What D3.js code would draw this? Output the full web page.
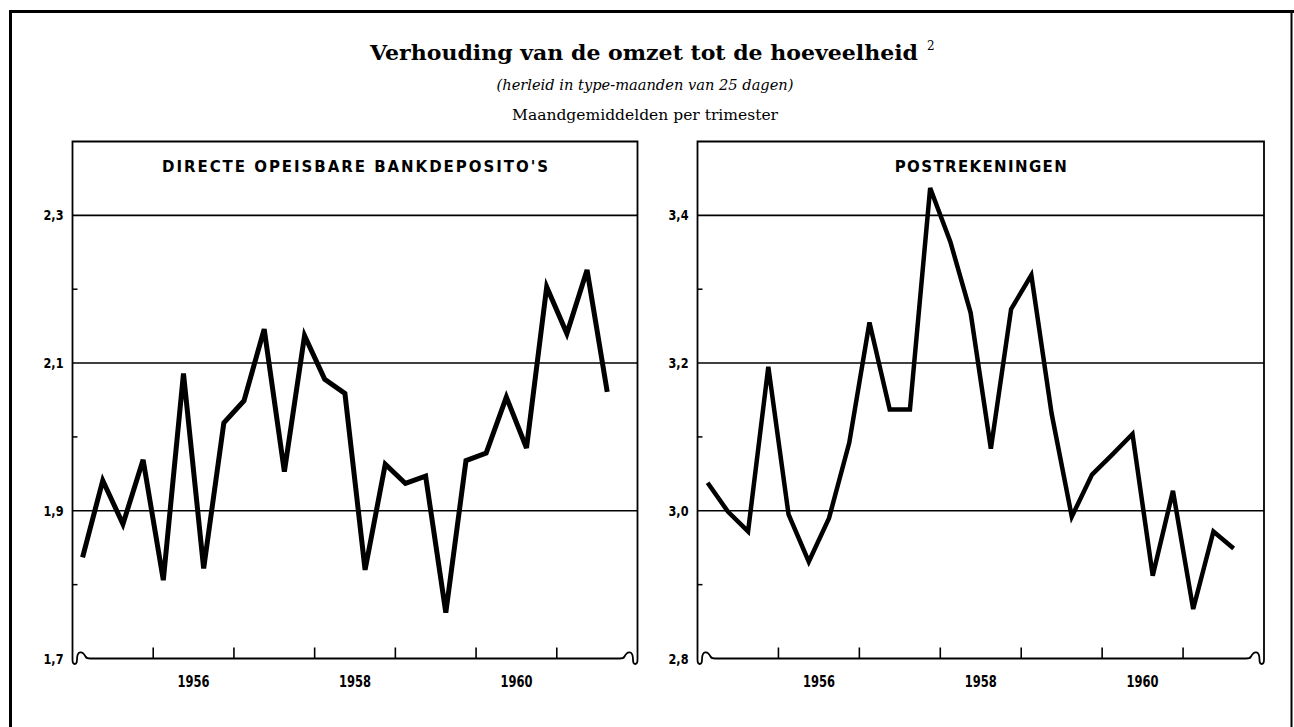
<!DOCTYPE html>
<html>
<head>
<meta charset="utf-8">
<script src="https://cdn.jsdelivr.net/npm/d3@7"></script>
<style>
  html, body { margin: 0; padding: 0; background: #fff; }
  svg { display: block; }
</style>
</head>
<body>
<svg id="chart" width="1294" height="727"></svg>
<script>
// ---------- DATA ----------
const quarters = [
  "1955 I","1955 II","1955 III","1955 IV",
  "1956 I","1956 II","1956 III","1956 IV",
  "1957 I","1957 II","1957 III","1957 IV",
  "1958 I","1958 II","1958 III","1958 IV",
  "1959 I","1959 II","1959 III","1959 IV",
  "1960 I","1960 II","1960 III","1960 IV",
  "1961 I","1961 II","1961 III"
];
const bankDeposits = [
  1.837, 1.941, 1.882, 1.969, 1.806, 2.086, 1.822, 2.019, 2.049,
  2.146, 1.953, 2.137, 2.078, 2.059, 1.820, 1.963, 1.937, 1.947,
  1.762, 1.968, 1.978, 2.054, 1.985, 2.203, 2.140, 2.226, 2.061
];
const postAccounts = [
  3.038, 2.999, 2.972, 3.195, 2.995, 2.931, 2.990, 3.092, 3.255,
  3.137, 3.137, 3.437, 3.364, 3.268, 3.084, 3.273, 3.319, 3.132,
  2.992, 3.049, 3.076, 3.104, 2.912, 3.027, 2.867, 2.972, 2.949
];
const yearTicks = [1956, 1957, 1958, 1959, 1960, 1961];
const yearLabels = ["1956", "1958", "1960"];
const leftGrid = [2.3, 2.1, 1.9];
const leftMinor = [2.2, 2.0, 1.8];
const leftLabels = [2.3, 2.1, 1.9, 1.7];
const rightGrid = [3.4, 3.2, 3.0];
const rightMinor = [3.3, 3.1, 2.9];
const rightLabels = [3.4, 3.2, 3.0, 2.8];
const titleText = "Verhouding van de omzet tot de hoeveelheid";
const subtitleText = "(herleid in type-maanden van 25 dagen)";
const subtitle2Text = "Maandgemiddelden per trimester";
const panelTitles = ["DIRECTE OPEISBARE BANKDEPOSITO'S", "POSTREKENINGEN"];

// ---------- DRAW ----------
const svg = d3.select("#chart");
const quarterPos = q => { const [y, r] = q.split(" "); const n = {I:1, II:2, III:3, IV:4}[r]; return +y + (n - 0.5) / 4; };
const fmt = v => d3.format(".1f")(v).replace(".", ",");

// outer frame
svg.append("path").attr("d", "M10.5,727 V11.5 H1294").attr("fill", "none").attr("stroke", "#000").attr("stroke-width", 3);
svg.append("line").attr("x1", 1291.5).attr("x2", 1291.5).attr("y1", 11).attr("y2", 727).attr("stroke", "#000").attr("stroke-width", 2);

// titles
svg.append("text").attr("x", 644).attr("y", 60).attr("text-anchor", "middle")
  .attr("font-family", "DejaVu Serif").attr("font-weight", "bold").attr("font-size", 21)
  .attr("textLength", 548).attr("lengthAdjust", "spacingAndGlyphs").text(titleText);
svg.append("text").attr("x", 927).attr("y", 50).attr("font-family", "DejaVu Serif").attr("font-size", 12).text("2");
svg.append("text").attr("x", 645).attr("y", 90).attr("text-anchor", "middle")
  .attr("font-family", "DejaVu Serif").attr("font-style", "italic").attr("font-size", 15.5)
  .attr("textLength", 297).attr("lengthAdjust", "spacingAndGlyphs").text(subtitleText);
svg.append("text").attr("x", 645).attr("y", 120).attr("text-anchor", "middle")
  .attr("font-family", "DejaVu Serif").attr("font-size", 15.5)
  .attr("textLength", 266).attr("lengthAdjust", "spacingAndGlyphs").text(subtitle2Text);

function panel(cfg) {
  const g = svg.append("g");
  const x = d3.scaleLinear().domain([1955, 1962]).range([cfg.x0, cfg.x1]);
  const y = d3.scaleLinear().domain(cfg.yDomain).range([658.5, 141.5]);
  const L = x.range()[0], R = x.range()[1], T = y.range()[1], B = y.range()[0];

  // frame with curled bottom corners
  const frame = `M${L},${T} V${B + 1} C${L},${B + 7} ${L + 4.5},${B + 7} ${L + 4.5},${B + 1} C${L + 4.5},${B - 8} ${L + 10},${B - 8} ${L + 13},${B - 2} C${L + 14},${B} ${L + 15},${B} ${L + 18},${B} H${R - 18} C${R - 15},${B} ${R - 14},${B} ${R - 13},${B - 2} C${R - 10},${B - 8} ${R - 4.5},${B - 8} ${R - 4.5},${B + 1} C${R - 4.5},${B + 7} ${R},${B + 7} ${R},${B + 1} V${T} Z`;
  g.append("path").attr("d", frame).attr("fill", "none").attr("stroke", "#000").attr("stroke-width", 1.8);

  // grid lines
  g.selectAll(".grid").data(cfg.grid).join("line")
    .attr("x1", L).attr("x2", R).attr("y1", d => y(d)).attr("y2", d => y(d))
    .attr("stroke", "#000").attr("stroke-width", 1.6);
  // minor ticks on left edge
  g.selectAll(".minor").data(cfg.minor).join("line")
    .attr("x1", L).attr("x2", L + 5).attr("y1", d => y(d)).attr("y2", d => y(d))
    .attr("stroke", "#000").attr("stroke-width", 1.5);
  // year ticks
  g.selectAll(".ytick").data(yearTicks).join("line")
    .attr("x1", d => x(d)).attr("x2", d => x(d)).attr("y1", B).attr("y2", B - 11)
    .attr("stroke", "#000").attr("stroke-width", 1.6);
  // year labels
  g.selectAll(".ylab").data(yearLabels).join("text")
    .attr("x", d => x(+d + 0.5)).attr("y", B + 28).attr("text-anchor", "middle")
    .attr("font-family", "DejaVu Sans Condensed, DejaVu Sans").attr("font-weight", "bold").attr("font-size", 15)
    .attr("textLength", 32).attr("lengthAdjust", "spacingAndGlyphs").text(d => d);
  // value labels
  g.selectAll(".vlab").data(cfg.labels).join("text")
    .attr("x", L - 9).attr("y", d => y(d) + 5).attr("text-anchor", "end")
    .attr("font-family", "DejaVu Sans Condensed, DejaVu Sans").attr("font-weight", "bold").attr("font-size", 14)
    .attr("textLength", 20).attr("lengthAdjust", "spacingAndGlyphs").text(d => fmt(d));
  // panel title
  g.append("text").attr("x", (L + R) / 2).attr("y", 172).attr("text-anchor", "middle")
    .attr("font-family", "DejaVu Sans").attr("font-weight", "bold").attr("font-size", 15)
    .attr("textLength", cfg.titleW).attr("lengthAdjust", "spacing").text(cfg.title);
  // data line
  const line = d3.line().x((d, i) => x(quarterPos(quarters[i]))).y(d => y(d));
  g.append("path").datum(cfg.values).attr("d", line).attr("fill", "none")
    .attr("stroke", "#000").attr("stroke-width", cfg.lw).attr("stroke-linejoin", "miter").attr("stroke-miterlimit", 4);
}

panel({ x0: 72.5, x1: 637.5, yDomain: [1.7, 2.4], grid: leftGrid, minor: leftMinor, labels: leftLabels,
  title: panelTitles[0], titleW: 386, values: bankDeposits, lw: 5 });
panel({ x0: 697.5, x1: 1264, yDomain: [2.8, 3.5], grid: rightGrid, minor: rightMinor, labels: rightLabels,
  title: panelTitles[1], titleW: 172, values: postAccounts, lw: 4.5 });
</script>
</body>
</html>
